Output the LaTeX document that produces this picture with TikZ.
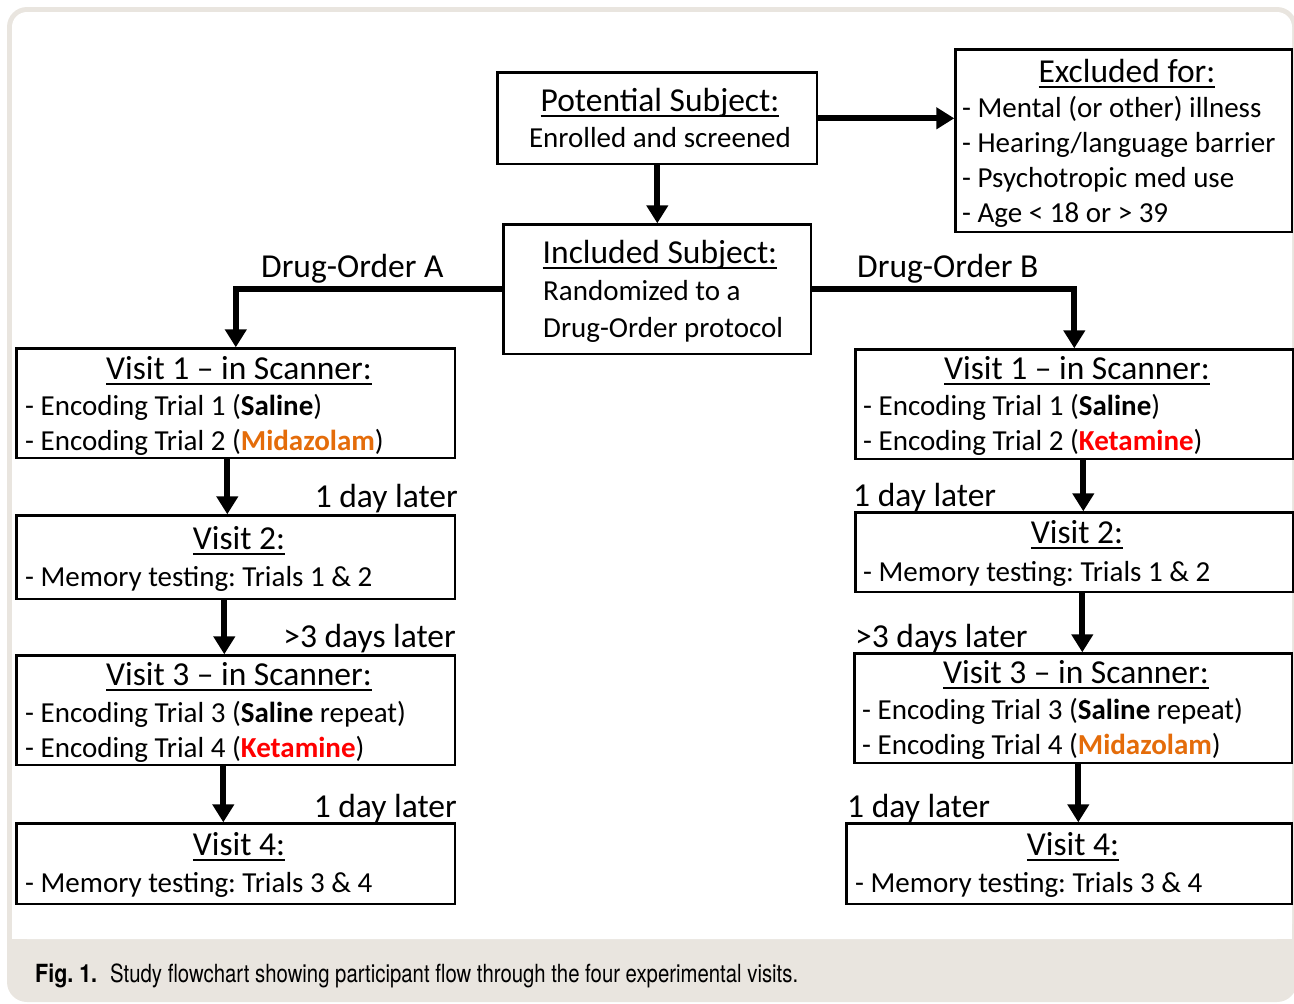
\documentclass[tikz,border=0pt]{standalone}
\usepackage{fontspec}
\setmainfont{Carlito}
\newfontfamily\capfont{TeX Gyre Heros}
\usetikzlibrary{arrows.meta}
\definecolor{framegray}{HTML}{E9E5DF}
\definecolor{midaz}{HTML}{E46C0A}
\definecolor{ketam}{HTML}{FF0000}
\definecolor{captext}{HTML}{231F20}
\frenchspacing
\newsavebox\ulbox
\newsavebox\capbox
\newsavebox\figbox
\newcommand\ulx[1]{\sbox\ulbox{#1}\rlap{\rule[-5.5pt]{\wd\ulbox}{2pt}}\usebox\ulbox}
\newcommand\salx{\textbf{Saline}}
\newcommand\midazx{\textcolor{midaz}{\textbf{Midazolam}}}
\newcommand\ketx{\textcolor{ketam}{\textbf{Ketamine}}}
\tikzset{
  box/.style={draw, line width=2.6pt, inner sep=0pt, anchor=north west, xshift=1.3pt, yshift=-1.3pt},
  ttl/.style={inner sep=0pt, anchor=base, font=\fontsize{33.5}{40}\selectfont},
  ln/.style={inner sep=0pt, anchor=base west, font=\fontsize{29}{35}\selectfont},
  lbl/.style={inner sep=0pt, font=\fontsize{33.5}{40}\selectfont},
  arr/.style={line width=6pt, -{Triangle[width=21pt,length=18pt]}},
}
\begin{document}
\sbox\figbox{\capfont\fontsize{25}{30}\selectfont\bfseries Fig. 1.}%
\sbox\capbox{\capfont\fontsize{25}{30}\selectfont Study flowchart showing participant flow through the four experimental visits.}%
\pgfmathsetmacro\figsx{62/\the\wd\figbox}%
\pgfmathsetmacro\capsx{688/\the\wd\capbox}%
\begin{tikzpicture}[x=1pt,y=-1pt]
\useasboundingbox (0,0) rectangle (1294,1004);
% frame
\fill[framegray, rounded corners=20pt] (7,7) rectangle (1297,1002);
\fill[white, rounded corners=15pt] (12,12) rectangle (1292,939);
\fill[white] (12,100) rectangle (1292,939);
% boxes
\node[box, minimum width=319.4pt, minimum height=91.4pt] (pot) at (495,70) {};
\node[box, minimum width=307.4pt, minimum height=129.4pt] (inc) at (501,222) {};
\node[box, minimum width=336.4pt, minimum height=182.4pt] (exc) at (953,47) {};
\node[box, minimum width=438.4pt, minimum height=109.4pt] (lv1) at (14,346) {};
\node[box, minimum width=438.4pt, minimum height=83.4pt] (lv2) at (14,513) {};
\node[box, minimum width=438.4pt, minimum height=109.4pt] (lv3) at (14,653) {};
\node[box, minimum width=438.4pt, minimum height=80.4pt] (lv4) at (14,821) {};
\node[box, minimum width=437.4pt, minimum height=109.4pt] (rv1) at (853,347) {};
\node[box, minimum width=437.4pt, minimum height=79.4pt] (rv2) at (853,510) {};
\node[box, minimum width=437.4pt, minimum height=109.4pt] (rv3) at (852,651) {};
\node[box, minimum width=445.4pt, minimum height=80.4pt] (rv4) at (844,821) {};
% texts
\node[ttl] (potT) at (660,111) {\ulx{Potential Subject:}};
\node[ln, anchor=base] (potL) at (660,147) {Enrolled and screened};
\node[ttl] (incT) at (660,263) {\ulx{Included Subject:}};
\node[ln] (incL1) at (543,300) {Randomized to a};
\node[ln] (incL2) at (543,337) {Drug-Order protocol};
\node[ttl] (excT) at (1127,82) {\ulx{Excluded for:}};
\node[ln] (excL1) at (962,117) {- Mental (or other) illness};
\node[ln] (excL2) at (962,152) {- Hearing/language barrier};
\node[ln] (excL3) at (962,187) {- Psychotropic med use};
\node[ln] (excL4) at (962,222) {- Age < 18 or > 39};
% left column
\node[ttl] (lv1T) at (239,379) {\ulx{Visit 1 -- in Scanner:}};
\node[ln] (lv1L1) at (25,415) {- Encoding Trial 1 (\salx)};
\node[ln] (lv1L2) at (25,450) {- Encoding Trial 2 (\midazx)};
\node[ttl] (lv2T) at (239,549) {\ulx{Visit 2:}};
\node[ln] (lv2L1) at (25,586) {- Memory testing: Trials 1 \& 2};
\node[ttl] (lv3T) at (239,685) {\ulx{Visit 3 -- in Scanner:}};
\node[ln] (lv3L1) at (25,722) {- Encoding Trial 3 (\salx{} repeat)};
\node[ln] (lv3L2) at (25,757) {- Encoding Trial 4 (\ketx)};
\node[ttl] (lv4T) at (239,855) {\ulx{Visit 4:}};
\node[ln] (lv4L1) at (25,892) {- Memory testing: Trials 3 \& 4};
% right column
\node[ttl] (rv1T) at (1077,379) {\ulx{Visit 1 -- in Scanner:}};
\node[ln] (rv1L1) at (863,415) {- Encoding Trial 1 (\salx)};
\node[ln] (rv1L2) at (863,450) {- Encoding Trial 2 (\ketx)};
\node[ttl] (rv2T) at (1077,543) {\ulx{Visit 2:}};
\node[ln] (rv2L1) at (863,581) {- Memory testing: Trials 1 \& 2};
\node[ttl] (rv3T) at (1076,683) {\ulx{Visit 3 -- in Scanner:}};
\node[ln] (rv3L1) at (862,719) {- Encoding Trial 3 (\salx{} repeat)};
\node[ln] (rv3L2) at (862,754) {- Encoding Trial 4 (\midazx)};
\node[ttl] (rv4T) at (1073,855) {\ulx{Visit 4:}};
\node[ln] (rv4L1) at (855,892) {- Memory testing: Trials 3 \& 4};
% labels
\node[lbl, anchor=base west] (doa) at (261,277) {Drug-Order A};
\node[lbl, anchor=base west] (dob) at (857,277) {Drug-Order B};
\node[lbl, anchor=base east] (la1) at (458,507) {1 day later};
\node[lbl, anchor=base east] (la2) at (456,647) {>3 days later};
\node[lbl, anchor=base east] (la3) at (457,817) {1 day later};
\node[lbl, anchor=base west] (lb1) at (853,506) {1 day later};
\node[lbl, anchor=base west] (lb2) at (855,647) {>3 days later};
\node[lbl, anchor=base west] (lb3) at (847,817) {1 day later};
% connectors
\draw[arr] (pot.east) -- (pot.east -| exc.west);
\draw[arr] (pot.south) -- (inc.north);
\draw[arr] (inc.west) -| (lv1.north);
\draw[arr] (inc.east) -| (rv1.north);
\draw[arr] ([xshift=-8.5pt]lv1.south) -- ([xshift=-8.5pt]lv1.south |- lv2.north);
\draw[arr] ([xshift=-11.5pt]lv2.south) -- ([xshift=-11.5pt]lv2.south |- lv3.north);
\draw[arr] ([xshift=-12.5pt]lv3.south) -- ([xshift=-12.5pt]lv3.south |- lv4.north);
\draw[arr] ([xshift=9pt]rv1.south) -- ([xshift=9pt]rv1.south |- rv2.north);
\draw[arr] ([xshift=8pt]rv2.south) -- ([xshift=8pt]rv2.south |- rv3.north);
\draw[arr] ([xshift=5pt]rv3.south) -- ([xshift=5pt]rv3.south |- rv4.north);
% caption
\node[anchor=base west, inner sep=0pt, text=captext] (fig) at (35,982) {\scalebox{\figsx}[1]{\usebox\figbox}};
\node[anchor=base west, inner sep=0pt, text=captext] (cap) at (110,982) {\scalebox{\capsx}[1]{\usebox\capbox}};
\end{tikzpicture}
\end{document}
